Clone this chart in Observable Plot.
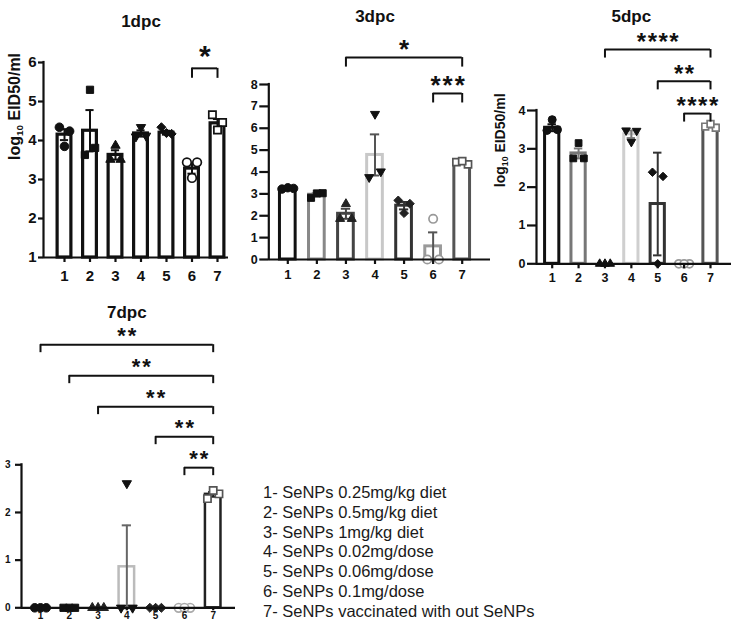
<!DOCTYPE html>
<html><head><meta charset="utf-8">
<script src="https://cdn.jsdelivr.net/npm/d3@7"></script>
<script src="https://cdn.jsdelivr.net/npm/@observablehq/plot@0.6"></script>
<style>
html,body{margin:0;padding:0;background:#fff;}
#root{position:relative;width:731px;height:626px;overflow:hidden;font-family:'Liberation Sans',Arial,sans-serif;}
.panel{position:absolute;}
.panel svg{background:transparent;}
#legend{position:absolute;left:263px;top:483px;font-size:16.5px;line-height:19.8px;color:#1a1a1a;white-space:nowrap;}
</style></head><body><div id="root"></div>
<script>
// ---------- data ----------
const groups = [1, 2, 3, 4, 5, 6, 7];
const groupNames = [
  "1- SeNPs 0.25mg/kg diet",
  "2- SeNPs 0.5mg/kg diet",
  "3- SeNPs 1mg/kg diet",
  "4- SeNPs 0.02mg/dose",
  "5- SeNPs 0.06mg/dose",
  "6- SeNPs 0.1mg/dose",
  "7- SeNPs vaccinated with out SeNPs"
];
const yLabelText = "log10 EID50/ml";

// 1dpc
const dpc1Means = [4.15, 4.25, 3.63, 4.18, 4.20, 3.28, 4.44];
const dpc1Sems = [0.14, 0.53, 0.12, 0.08, 0.05, 0.13, 0.11];
const dpc1Points = [[4.34, 4.24, 3.85], [3.63, 3.81, 5.30], [3.51, 3.51, 3.87], [4.10, 4.12, 4.34], [4.34, 4.17, 4.19], [3.44, 3.44, 3.04], [4.66, 4.46, 4.27]];
const dpc1Ticks = [1, 2, 3, 4, 5, 6];
const dpc1Brackets = [{from: 6, to: 7, level: 5.85, label: "*"}];

// 3dpc
const dpc3Means = [3.23, 2.96, 2.09, 4.78, 2.46, 0.60, 4.42];
const dpc3Sems = [0.03, 0.07, 0.23, 0.94, 0.17, 0.64, 0.05];
const dpc3Points = [[3.22, 3.25, 3.28], [2.82, 3.03, 3.02], [1.86, 1.86, 2.54], [3.76, 4.02, 6.65], [2.70, 2.55, 2.12], [0, 0, 1.86], [4.45, 4.35, 4.50]];
const dpc3Ticks = [0, 1, 2, 3, 4, 5, 6, 7, 8];
const dpc3Brackets = [{from: 3, to: 7, level: 9.23, label: "*"}, {from: 6, to: 7, level: 7.59, label: "***"}];

// 5dpc
const dpc5Means = [3.55, 2.88, 0, 3.38, 1.56, 0, 3.60];
const dpc5Sems = [0.09, 0.13, 0, 0.10, 1.34, 0, 0.04];
const dpc5Points = [[3.48, 3.50, 3.76], [2.75, 2.75, 3.15], [0, 0, 0], [3.48, 3.47, 3.18], [2.39, 2.28, 0], [0, 0, 0], [3.58, 3.55, 3.65]];
const dpc5Ticks = [0, 1, 2, 3, 4];
const dpc5Brackets = [{from: 3, to: 7, level: 5.59, label: "****"}, {from: 5, to: 7, level: 4.76, label: "**"}, {from: 6, to: 7, level: 3.92, label: "****"}];

// 7dpc
const dpc7Means = [0, 0, 0, 0.86, 0, 0, 2.38];
const dpc7Sems = [0, 0, 0, 0.87, 0, 0, 0.05];
const dpc7Points = [[0, 0, 0], [0, 0, 0], [0, 0, 0], [0, 0, 2.61], [0, 0, 0], [0, 0, 0], [2.29, 2.39, 2.46]];
const dpc7Ticks = [0, 1, 2, 3];
const dpc7Brackets = [{from: 1, to: 7, level: 5.52, label: "**"}, {from: 2, to: 7, level: 4.87, label: "**"}, {from: 3, to: 7, level: 4.22, label: "**"}, {from: 5, to: 7, level: 3.59, label: "**"}, {from: 6, to: 7, level: 2.94, label: "**"}];

// ---------- styles ----------
const triangleDown = {
  draw(context, size) {
    const s3 = Math.sqrt(3);
    const y = -Math.sqrt(size / (s3 * 3));
    context.moveTo(0, -y * 2);
    context.lineTo(-s3 * y, y);
    context.lineTo(s3 * y, y);
    context.closePath();
  }
};
const symbols = ["circle", "square", "triangle", triangleDown, "diamond2", "circle", "square"];
const symbolScale = [1, 0.95, 0.8, 0.8, 0.95, 1, 0.95];
const JIT = [-0.2, 0.2, 0];
const HW = 0.27, CAP = 0.16;
const FONT = "'Liberation Sans', Arial, sans-serif";

const panels = [
  {title: "1dpc", means: dpc1Means, sems: dpc1Sems, points: dpc1Points, ticks: dpc1Ticks, brackets: dpc1Brackets, yDomain: [1, 6], yLabel: true,
   barColors: Array(7).fill("#111"), errColors: Array(7).fill("#111"), ptColors: Array(7).fill("#111"), open: [0,0,0,0,0,1,1],
   geo: {left: 0, top: 0, w: 240, h: 290, axisL: 43, axisR: 228, c1: 64, c7: 217, yTop: 62, yBot: 257, titleY: 14, titleFont: 17,
     barStroke: 3.2, axisStroke: 2.2, yTickSize: 5, yTickPad: 2, yFont: 15, xTickSize: 5, xTickPad: 8, xFont: 15, r: 4.3,
     dropPx: 10, starFont: 30, starDy: -11.5, starLs: 0, yLabelX: 14, yLabelFont: 16}},
  {title: "3dpc", means: dpc3Means, sems: dpc3Sems, points: dpc3Points, ticks: dpc3Ticks, brackets: dpc3Brackets, yDomain: [0, 8], yLabel: false,
   barColors: ["#111", "#888", "#444", "#c8c8c8", "#333", "#9a9a9a", "#555"], errColors: ["#111", "#888", "#444", "#555", "#333", "#555", "#555"],
   ptColors: ["#111", "#111", "#222", "#111", "#222", "#999", "#555"], open: [0,0,0,0,0,1,1],
   geo: {left: 240, top: 0, w: 250, h: 300, axisL: 28.3, axisR: 250, c1: 47.3, c7: 221.7, yTop: 84, yBot: 259, titleY: 9, titleFont: 17,
     barStroke: 3, axisStroke: 2.2, yTickSize: 9, yTickPad: 2, yFont: 12.5, xTickSize: 5, xTickPad: 5, xFont: 13, r: 4.2,
     dropPx: 9.5, starFont: 26, starDy: -8, starLs: 2}},
  {title: "5dpc", means: dpc5Means, sems: dpc5Sems, points: dpc5Points, ticks: dpc5Ticks, brackets: dpc5Brackets, yDomain: [0, 4], yLabel: true,
   barColors: ["#111", "#777", "#111", "#cfcfcf", "#333", "#aaa", "#555"], errColors: ["#111", "#777", "#111", "#777", "#333", "#aaa", "#555"],
   ptColors: ["#111", "#111", "#111", "#111", "#111", "#999", "#777"], open: [0,0,0,0,0,1,1],
   geo: {left: 490, top: 0, w: 241, h: 300, axisL: 46, axisR: 241, c1: 61.7, c7: 220, yTop: 110, yBot: 263.3, titleY: 9, titleFont: 17,
     barStroke: 3, axisStroke: 2.2, yTickSize: 9, yTickPad: 2, yFont: 12.5, xTickSize: 5, xTickPad: 4, xFont: 12.5, r: 4,
     dropPx: 8.5, starFont: 24, starDy: -7.5, starLs: 1.5, yLabelX: 10, yLabelFont: 14}},
  {title: "7dpc", means: dpc7Means, sems: dpc7Sems, points: dpc7Points, ticks: dpc7Ticks, brackets: dpc7Brackets, yDomain: [0, 3], yLabel: false,
   barColors: ["#111", "#222", "#333", "#bbb", "#333", "#aaa", "#222"], errColors: ["#111", "#222", "#333", "#666", "#333", "#aaa", "#222"],
   ptColors: ["#111", "#111", "#222", "#111", "#222", "#aaa", "#555"], open: [0,0,0,0,0,1,1],
   geo: {left: 0, top: 290, w: 240, h: 336, axisL: 21, axisR: 235, c1: 40, c7: 212.7, yTop: 174.3, yBot: 317.3, titleY: 15, titleFont: 17,
     barStroke: 2.5, axisStroke: 2.2, yTickSize: 6, yTickPad: 5, yFont: 10, xTickSize: 3, xTickPad: 1, xFont: 10, r: 4.3,
     dropPx: 8, starFont: 22, starDy: -8.5, starLs: 2}}
];

function drawPanel(p) {
  const g = p.geo;
  const step = (g.c7 - g.c1) / 6;
  const xDomain = [1 - (g.c1 - g.axisL) / step, 7 + (g.axisR - g.c7) / step];
  const base = p.yDomain[0];
  const unit = (g.yBot - g.yTop) / (p.yDomain[1] - p.yDomain[0]);
  const drop = g.dropPx / unit;
  const bars = groups.map((grp, i) => ({g: grp, mean: p.means[i], sem: p.sems[i]}));
  const marks = [];
  // bars
  groups.forEach((grp, i) => {
    marks.push(Plot.rectY([bars[i]], {x1: d => d.g - HW, x2: d => d.g + HW, y1: () => base, y2: "mean",
      fill: "white", stroke: p.barColors[i], strokeWidth: g.barStroke}));
  });
  // error bars
  groups.forEach((grp, i) => {
    const b = bars.filter(d => d.g === grp && d.sem > 0);
    if (!b.length) return;
    const o = {stroke: p.errColors[i], strokeWidth: 2};
    marks.push(Plot.ruleX(b, {x: "g", y1: d => d.mean - d.sem, y2: d => d.mean + d.sem, ...o}));
    marks.push(Plot.ruleY(b, {y: d => d.mean + d.sem, x1: d => d.g - CAP, x2: d => d.g + CAP, ...o}));
    marks.push(Plot.ruleY(b, {y: d => d.mean - d.sem, x1: d => d.g - CAP, x2: d => d.g + CAP, ...o}));
  });
  // points
  groups.forEach((grp, i) => {
    const pts = p.points[i].map((v, j) => ({g: grp, v, j}));
    const c = p.ptColors[i];
    marks.push(Plot.dot(pts, {x: d => d.g + JIT[d.j], y: "v", symbol: symbols[i], r: g.r * symbolScale[i],
      fill: p.open[i] ? "white" : c, stroke: c, strokeWidth: p.open[i] ? 1.7 : 1}));
  });
  // axes (lines drawn explicitly along the scale extents)
  const ax = {stroke: "#111", strokeWidth: g.axisStroke};
  marks.push(Plot.ruleX([xDomain[0]], {x: d => d, y1: () => p.yDomain[0], y2: () => p.yDomain[1], ...ax, strokeLinecap: "square"}));
  marks.push(Plot.ruleY([p.yDomain[0]], {y: d => d, x1: () => xDomain[0], x2: () => xDomain[1], ...ax}));
  marks.push(Plot.axisY({ticks: p.ticks, tickSize: g.yTickSize, tickPadding: g.yTickPad, strokeWidth: g.axisStroke, stroke: "#111",
    fontSize: g.yFont, fontWeight: "bold", label: null, tickFormat: d => String(d)}));
  marks.push(Plot.axisX({ticks: groups, tickSize: g.xTickSize, tickPadding: g.xTickPad, strokeWidth: g.axisStroke, stroke: "#111",
    fontSize: g.xFont, fontWeight: "bold", label: null, tickFormat: d => String(d)}));
  // significance brackets
  const bo = {stroke: "#111", strokeWidth: 2};
  marks.push(Plot.ruleY(p.brackets, {y: "level", x1: "from", x2: "to", ...bo}));
  marks.push(Plot.ruleX(p.brackets, {x: "from", y1: "level", y2: d => d.level - drop, ...bo}));
  marks.push(Plot.ruleX(p.brackets, {x: "to", y1: "level", y2: d => d.level - drop, ...bo}));
  marks.push(Plot.text(p.brackets, {x: d => (d.from + d.to) / 2, y: "level", text: "label", dy: g.starDy, dx: g.starLs / 2,
    fontSize: g.starFont, fontWeight: "bold", fill: "#111"}));
  // title
  marks.push(Plot.text([p.title], {x: () => groups[3], frameAnchor: "top", dy: g.titleY - g.yTop, text: d => d,
    fontSize: g.titleFont, fontWeight: "bold", fill: "#111"}));
  if (p.yLabel) {
    marks.push(Plot.text([yLabelText], {frameAnchor: "left", rotate: -90, dx: g.yLabelX - g.axisL, text: d => d,
      fontSize: g.yLabelFont, fontWeight: "bold", fill: "#111"}));
  }
  const svg = Plot.plot({
    width: g.w, height: g.h,
    marginLeft: g.axisL, marginRight: g.w - g.axisR, marginTop: g.yTop, marginBottom: g.h - g.yBot,
    x: {type: "linear", domain: xDomain},
    y: {type: "linear", domain: p.yDomain},
    style: {fontFamily: FONT, background: "transparent", color: "#111", overflow: "visible"},
    marks
  });
  d3.select(svg).selectAll("text").each(function () {
    const t = d3.select(this);
    const s = this.textContent;
    if (/^\*+$/.test(s)) t.attr("letter-spacing", g.starLs + "px");
    if (s === yLabelText) {
      const dyAttr = t.attr("dy");
      t.selectAll("*").remove();
      t.text(null);
      if (dyAttr) t.attr("dy", dyAttr);
      t.append("tspan").text("log");
      t.append("tspan").attr("font-size", "0.62em").attr("dy", "0.35em").text("10");
      t.append("tspan").attr("dy", "-0.22em").text(" EID50/ml");
    }
  });
  const div = document.createElement("div");
  div.className = "panel";
  div.style.left = g.left + "px";
  div.style.top = g.top + "px";
  div.appendChild(svg);
  return div;
}

const root = document.getElementById("root");
panels.forEach(p => root.appendChild(drawPanel(p)));
const legend = document.createElement("div");
legend.id = "legend";
groupNames.forEach(n => { const d = document.createElement("div"); d.textContent = n; legend.appendChild(d); });
root.appendChild(legend);
</script>
</body></html>
